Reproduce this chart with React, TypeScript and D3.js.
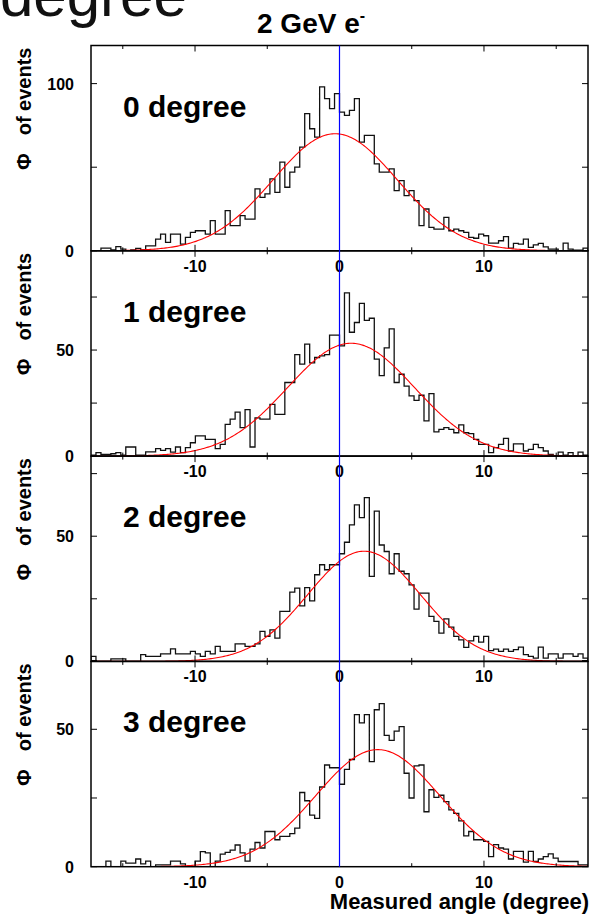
import React from "react";
import * as d3 from "d3";

// ---------- data ----------
const X_DOMAIN: [number, number] = [-17.2, 17.2];
const N_BINS = 100;

const panelLabels = ["0 degree", "1 degree", "2 degree", "3 degree"];

const counts0 = [
  0, 0, 1.6, 1.6, 0.5, 2.5, 1, 0, 0.5, 1.5,
  0.5, 3, 3, 7, 10, 5, 10, 10, 4, 8,
  11, 12, 12, 10, 18, 10, 10, 24, 15, 15,
  21, 19, 19, 37, 32, 34, 43, 35, 53, 38,
  47, 50, 62, 82, 73, 68, 98, 91, 85, 94,
  83, 81, 84, 91, 65, 69, 69, 52, 47, 47,
  49, 36, 42, 33, 36, 30, 15, 25, 14, 13,
  13, 20, 12, 13, 12, 11, 8, 7.5, 10, 9,
  4.6, 4.6, 6, 8.5, 1.6, 4.4, 4, 7, 2, 3.6,
  4.4, 2.4, 1, 1, 0, 4.6, 1, 0.4, 0.4, 1.6,
];
const counts1 = [
  0.5, 1.6, 0.8, 0.8, 1.1, 1.6, 0.5, 4.3, 4.3, 0.5,
  0.5, 2, 2, 3.5, 2.7, 3.5, 1.9, 4.3, 1.6, 4,
  6.3, 9.5, 9.5, 7.9, 7.9, 3.5, 5.5, 15, 17.4, 20.7,
  13.4, 21.9, 4.3, 18, 17.4, 17.4, 24.4, 19.7, 19.7, 34.7,
  34.7, 47.8, 43.4, 52.8, 44, 46.5, 47.3, 47.8, 57, 57,
  52, 77, 58.4, 63, 72, 64, 65, 45.7, 37.9, 51,
  60, 34.7, 38.6, 33, 28.4, 26.3, 28.7, 16.6, 29.5, 11.4,
  12.6, 13.4, 12.6, 11, 14.7, 11, 10.6, 7.9, 5.5, 5.5,
  1.6, 4, 5.5, 8.4, 2.4, 5.8, 5.8, 2.4, 3.2, 5.5,
  4, 2.4, 0.8, 0, 1.9, 0.5, 1.6, 0, 1.9, 0.5,
];
const counts2 = [
  2, 0, 0, 0, 1, 1, 1, 0, 0, 0,
  2.7, 2, 2, 2, 3, 3, 5, 3, 3, 3,
  4, 3, 2, 4, 3, 6, 4, 4, 4, 7,
  7, 6, 6, 7, 12, 10, 12.6, 9.3, 20, 20,
  27.7, 29.3, 22.2, 29.5, 24.2, 34.6, 38.6, 36.6, 38.6, 38.6,
  43, 47.6, 54.5, 62.5, 57.4, 65.4, 34, 60, 46.5, 43.9,
  35, 43, 36, 35, 30.6, 20.9, 27.3, 27.3, 18, 16,
  11.3, 17, 13.7, 10, 8.6, 5.6, 8.2, 10, 7.7, 10,
  4.3, 4.9, 4, 4.9, 4, 4.7, 5.7, 2.7, 2, 1.3,
  5.7, 1.3, 3, 3, 1.3, 3, 3, 2, 3, 1.3,
];
const counts3 = [
  0, 0, 0, 2, 0, 0, 2, 1.3, 1.3, 2.8,
  1, 2, 0, 0.7, 0.7, 0.7, 2, 2, 1, 0,
  0, 2, 5.5, 5, 0, 2, 4.6, 5.2, 6, 7.9,
  5, 2, 6.4, 8.8, 6.8, 12.8, 12.8, 9.8, 11, 11,
  12, 14, 27, 24, 18.8, 17.6, 29, 37, 36, 36,
  30, 35.4, 39, 55.3, 52.3, 55.3, 38.2, 57.1, 59.3, 47.8,
  46, 49.3, 51, 34, 25, 36.7, 37, 20, 28, 25.2,
  26, 23.7, 20.7, 19.4, 16.7, 11.2, 12.8, 9.8, 9.8, 9.2,
  3.7, 8, 6.8, 6.4, 2.8, 5.6, 5.6, 1.7, 5.6, 1.9,
  2.8, 3.7, 4.7, 3.1, 1.9, 1.9, 1.9, 1.9, 0.7, 0.7,
];
const allCounts = [counts0, counts1, counts2, counts3];

// Gaussian fit parameters per panel
const fitAmp = [70, 53.2, 44, 42.6];
const fitMean = [-0.3, 0.8, 1.7, 2.65];
const fitSigma = [4.3, 4.4, 3.9, 4.3];

const yMax = [122.8, 96.8, 82, 74.7];
const yTicks = [[0, 50, 100], [0, 25, 50, 75], [0, 25, 50, 75], [0, 25, 50, 75]];
const yTickLabels = [[0, 100], [0, 50], [0, 50], [0, 50]];
const xTicks = [-15, -10, -5, 0, 5, 10, 15];
const xTickLabels = [-10, 0, 10];

// ---------- layout ----------
const W = 591, H = 914;
const LEFT = 91, RIGHT = 588, TOP = 45.5, PANEL_H = 205.3;
const FONT = "'Liberation Sans', Arial, Helvetica, sans-serif";

export default function App() {
  const x = d3.scaleLinear().domain(X_DOMAIN).range([LEFT, RIGHT]);
  const binW = (X_DOMAIN[1] - X_DOMAIN[0]) / N_BINS;
  const bottomAll = TOP + PANEL_H * 4;

  return (
    <svg width={W} height={H} style={{ position: "absolute", left: 0, top: 0, background: "#fff" }}
      xmlns="http://www.w3.org/2000/svg">
      <defs>
        {allCounts.map((_, p) => (
          <clipPath id={`clip${p}`} key={p}>
            <rect x={LEFT} y={TOP + p * PANEL_H} width={RIGHT - LEFT} height={PANEL_H} />
          </clipPath>
        ))}
      </defs>

      {/* large text at top-left, cut off by the page edge as in the reference */}
      <text x={0} y={16} fontFamily={FONT} fontSize={60} fill="#111">degree</text>

      {/* title */}
      <text x={257} y={33} fontFamily={FONT} fontWeight="bold" fontSize={28} fill="#000">
        2 GeV e<tspan dy={-12} fontSize={16}>-</tspan>
      </text>

      {allCounts.map((counts, p) => {
        const top = TOP + p * PANEL_H;
        const bottom = top + PANEL_H;
        const y = d3.scaleLinear().domain([0, yMax[p]]).range([bottom, top]);
        const pts: [number, number][] = [[x(X_DOMAIN[0]), y(0)]];
        counts.forEach((v, k) => {
          const e0 = X_DOMAIN[0] + k * binW;
          const e1 = e0 + binW;
          pts.push([x(e0), y(v)]);
          pts.push([x(e1), y(v)]);
        });
        pts.push([x(X_DOMAIN[1]), y(0)]);
        const histPath = d3.line()(pts);
        const xs = d3.range(X_DOMAIN[0], X_DOMAIN[1] + 0.05, 0.1);
        const fitLine = d3.line<number>()
          .x((v) => x(v))
          .y((v) => y(fitAmp[p] * Math.exp(-((v - fitMean[p]) ** 2) / (2 * fitSigma[p] ** 2))))(xs);

        return (
          <g key={p}>
            <g clipPath={`url(#clip${p})`}>
              <path d={histPath || ""} fill="none" stroke="#111" strokeWidth={1.3} />
              <path d={fitLine || ""} fill="none" stroke="#ff0000" strokeWidth={1.1} />
            </g>
            {xTicks.map((t) => {
              const len = xTickLabels.includes(t) ? 6 : 3.5;
              return (
                <g key={t} stroke="#000" strokeWidth={1}>
                  <line x1={x(t)} x2={x(t)} y1={bottom} y2={bottom - len} />
                  <line x1={x(t)} x2={x(t)} y1={top} y2={top + len} />
                </g>
              );
            })}
            {yTicks[p].map((t) => (
              <g key={t} stroke="#000" strokeWidth={1}>
                <line x1={LEFT} x2={LEFT + 6} y1={y(t)} y2={y(t)} />
                <line x1={RIGHT} x2={RIGHT - 6} y1={y(t)} y2={y(t)} />
              </g>
            ))}
            {yTickLabels[p].map((t) => (
              <text key={t} x={74} y={y(t) + 6} textAnchor="end" fontFamily={FONT}
                fontWeight="bold" fontSize={16} fill="#000">{t}</text>
            ))}
            {xTickLabels.map((t) => (
              <text key={t} x={x(t)} y={bottom + 21} textAnchor="middle" fontFamily={FONT}
                fontWeight="bold" fontSize={16} fill="#000">{t}</text>
            ))}
            <text transform={`translate(31,${top + 2}) rotate(-90)`} textAnchor="end"
              fontFamily={FONT} fontWeight="bold" fontSize={20} fill="#000">
              Φ<tspan dx={18}>of events</tspan>
            </text>
            <text x={123} y={top + 71} fontFamily={FONT} fontWeight="bold" fontSize={30} fill="#000">
              {panelLabels[p]}
            </text>
            <rect x={LEFT} y={top} width={RIGHT - LEFT} height={PANEL_H} fill="none"
              stroke="#000" strokeWidth={1.5} />
          </g>
        );
      })}

      {/* zero line */}
      <line x1={x(0)} x2={x(0)} y1={TOP} y2={bottomAll} stroke="#0000ff" strokeWidth={1.2} />

      {/* x axis title */}
      <text x={589} y={909} textAnchor="end" fontFamily={FONT} fontWeight="bold" fontSize={22} fill="#000">
        Measured angle (degree)
      </text>
    </svg>
  );
}
